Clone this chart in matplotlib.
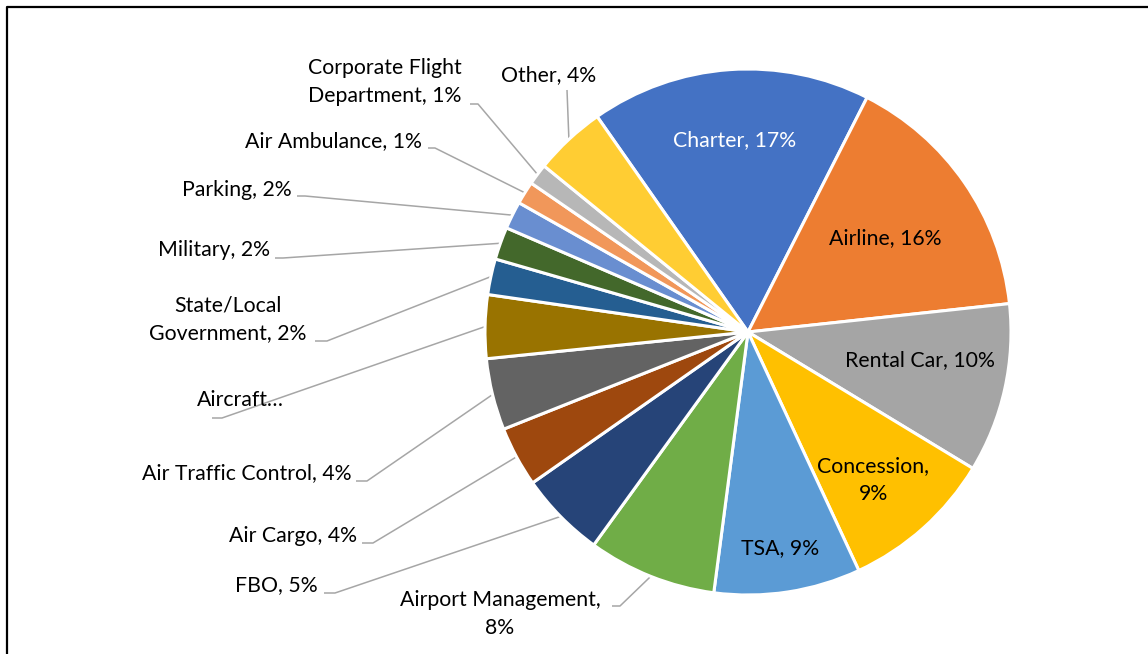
import numpy as np
import matplotlib
matplotlib.use('Agg')
import matplotlib.pyplot as plt
from matplotlib.lines import Line2D

plt.rcParams['font.family'] = ['Lato', 'DejaVu Sans']

# data (share of respondents, %)
categories = ['Charter', 'Airline', 'Rental Car', 'Concession', 'TSA',
              'Airport Management', 'FBO', 'Air Cargo', 'Air Traffic Control',
              'Aircraft Maintenance', 'State/Local Government', 'Military',
              'Parking', 'Air Ambulance', 'Corporate Flight Department', 'Other']
values = [17.2, 15.8, 10.4, 9.4, 9.0, 7.9, 5.3, 3.7, 4.4, 3.9, 2.2, 2.0,
          1.7, 1.4, 1.3, 4.4]
label_text = ['Charter', 'Airline', 'Rental Car', 'Concession,\n', 'TSA',
              'Airport Management,\n', 'FBO', 'Air Cargo', 'Air Traffic Control',
              'Aircraft\u2026', 'State/Local\nGovernment', 'Military',
              'Parking', 'Air Ambulance', 'Corporate Flight\nDepartment', 'Other']
colors = ['#4472C4', '#ED7D31', '#A5A5A5', '#FFC000', '#5B9BD5', '#70AD47',
          '#264478', '#9E480E', '#636363', '#997300', '#255E91', '#43682B',
          '#698ED0', '#F1975A', '#B7B7B7', '#FFCD33']

W, H = 1148, 654
def Y(y):
    return H - y

fig = plt.figure(figsize=(W / 100, H / 100), dpi=100)
ax = fig.add_axes([0, 0, 1, 1])

cx, cy, r = 748, Y(332), 263
wedges, _ = ax.pie(values, colors=colors, startangle=125, counterclock=False,
                   center=(cx, cy), radius=r,
                   wedgeprops=dict(edgecolor='white', linewidth=2.2))
ax.set_xlim(0, W)
ax.set_ylim(0, H)
ax.set_aspect('equal')
ax.axis('off')

total = sum(values)
def lab(i):
    pct = round(values[i] / total * 100)
    t = label_text[i]
    if t.endswith('\n'):
        return f'{t}{pct}%'
    if t.endswith('\u2026'):
        return t
    return f'{t}, {pct}%'

fs = 15.3
ls = 1.45
# labels inside the pie: (x, y, color)
inside = {0: (735, 140, 'white'), 1: (885, 238, 'black'), 2: (920, 360, 'black'),
          3: (873, 480, 'black'), 4: (780, 548, 'black')}
for i, (x, y, c) in inside.items():
    ax.text(x, Y(y), lab(i), ha='center', va='center', fontsize=fs, color=c,
            linespacing=ls)

# outside labels: text pos, ha, leader start, elbow
outside = {
    5: ((500, 614), 'center', (612, 606), (620, 606)),
    6: ((318, 585), 'right', (324, 593), (335, 593)),
    7: ((357, 536), 'right', (362, 543), (373, 543)),
    8: ((352, 473), 'right', (356, 481), (367, 481)),
    9: ((240, 400), 'center', (212, 418), (222, 418)),
    10: ((228, 319), 'center', (315, 341), (327, 341)),
    11: ((270, 250), 'right', (275, 258), (283, 258)),
    12: ((292, 190), 'right', (297, 196), (305, 196)),
    13: ((422, 141), 'right', (428, 148), (435, 148)),
    14: ((385, 82), 'center', (470, 104), (478, 104)),
    15: ((549, 75), 'center', (567, 90), (567, 90)),
}
for i, ((x, y), ha, p0, p1) in outside.items():
    ax.text(x, Y(y), lab(i), ha=ha, va='center', fontsize=fs, color='black',
            linespacing=ls)
    w = wedges[i]
    mid = np.deg2rad((w.theta1 + w.theta2) / 2)
    ex, ey = cx + r * np.cos(mid), cy + r * np.sin(mid)
    ax.plot([p0[0], p1[0], ex], [Y(p0[1]), Y(p1[1]), ey], color='#A6A6A6',
            lw=1.1, solid_capstyle='butt', zorder=0)

# chart border (left and top visible)
fig.add_artist(Line2D([7 / W, 7 / W, 1], [0, 1 - 7 / H, 1 - 7 / H],
                      transform=fig.transFigure, color='black', lw=1.6))

fig.savefig('out.png', dpi=100)
